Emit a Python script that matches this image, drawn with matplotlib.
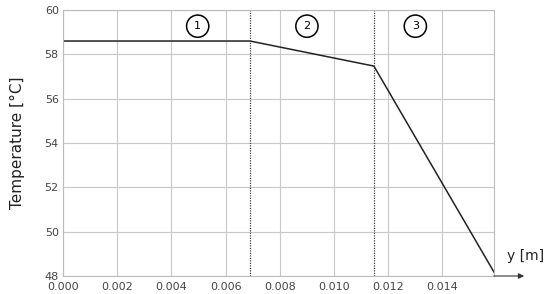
import numpy as np
import matplotlib
matplotlib.use('Agg')
import matplotlib.pyplot as plt

# temperature profile through the three layers
y_pos = [0.0, 0.0069, 0.01147, 0.0159]
temp = [58.6, 58.6, 57.47, 48.18]
interfaces = [0.0069, 0.01147]
zone_labels = ['1', '2', '3']
zone_x = [0.00497, 0.0090, 0.0130]
zone_y = 59.27

x_ticks = [0.000, 0.002, 0.004, 0.006, 0.008, 0.010, 0.012, 0.014]
y_ticks = [48, 50, 52, 54, 56, 58, 60]

fig = plt.figure(figsize=(5.5, 2.94), dpi=100)
ax = fig.add_axes([0.1145, 0.0612, 0.7836, 0.9048])

ax.plot(y_pos, temp, color='#222222', lw=1.1)
for xi in interfaces:
    ax.axvline(xi, color='#444444', lw=0.9, ls=(0, (1, 1)))

for lab, zx in zip(zone_labels, zone_x):
    ax.text(zx, zone_y, lab, ha='center', va='center', fontsize=8,
            bbox=dict(boxstyle='circle,pad=0.55', fc='white', ec='black', lw=1.1))

ax.set_xlim(0, 0.0159)
ax.set_ylim(48, 60)
ax.set_xticks(x_ticks)
ax.set_xticklabels(['%.3f' % v for v in x_ticks])
ax.set_yticks(y_ticks)
ax.grid(True, color='#c8c8c8', lw=0.8)
ax.tick_params(length=0, labelsize=8, labelcolor='#444444')
ax.tick_params(axis='x', pad=4)
ax.tick_params(axis='y', pad=3)
for s in ax.spines.values():
    s.set_color('#bbbbbb')
    s.set_linewidth(0.8)

ax.set_ylabel('Temperature [°C]', fontsize=11, color='#222222', labelpad=14)

# axis arrow beyond the plot
ax.annotate('', xy=(1.07, 0), xycoords='axes fraction', xytext=(1.0, 0),
            arrowprops=dict(arrowstyle='-|>', color='#333333', lw=0.8,
                            mutation_scale=8, shrinkA=0, shrinkB=0))
ax.text(1.03, 0.05, 'y [m]', transform=ax.transAxes, fontsize=10,
        color='#222222', ha='left', va='bottom')

fig.savefig('out.png', dpi=100)
